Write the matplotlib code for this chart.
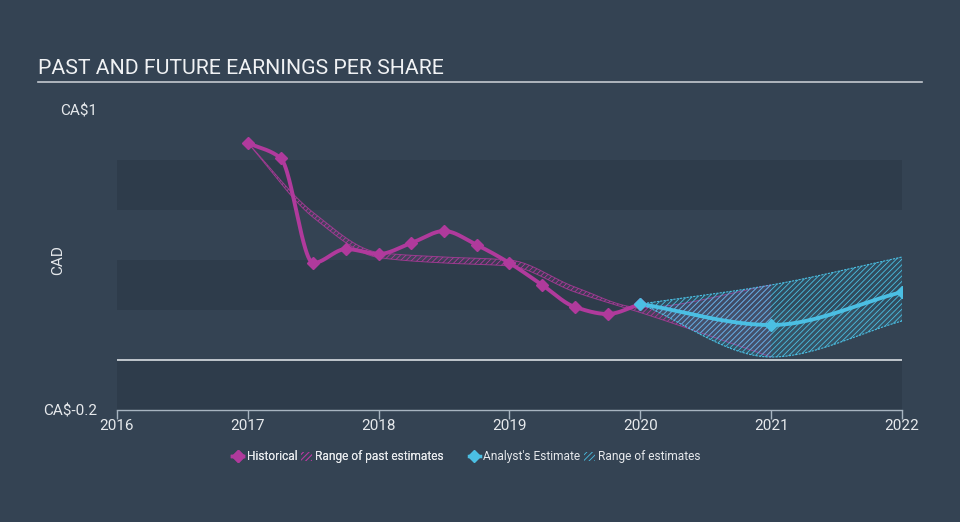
import numpy as np
import matplotlib
matplotlib.use("Agg")
import matplotlib.pyplot as plt
from matplotlib.lines import Line2D
from matplotlib.patches import Patch

plt.rcParams['font.family'] = ['Roboto', 'DejaVu Sans']
plt.rcParams['hatch.linewidth'] = 0.6

# ---- data ----
hist_x = [2017.0, 2017.25, 2017.5, 2017.75, 2018.0, 2018.25, 2018.5, 2018.75,
          2019.0, 2019.25, 2019.5, 2019.75, 2020.0]
hist_y = [0.868, 0.808, 0.388, 0.444, 0.424, 0.468, 0.516, 0.46,
          0.388, 0.30, 0.212, 0.184, 0.224]

past_x = [2017.0, 2017.5, 2018.0, 2018.5, 2019.0, 2019.5, 2020.0, 2021.0]
past_hi = [0.868, 0.59, 0.43, 0.412, 0.40, 0.292, 0.21, 0.30]
past_lo = [0.868, 0.57, 0.41, 0.388, 0.376, 0.272, 0.19, 0.012]

est_x = [2020.0, 2021.0, 2022.0]
est_y = [0.224, 0.14, 0.272]
est_hi = [0.224, 0.30, 0.412]
est_lo = [0.224, 0.012, 0.156]

x_ticks = [2016, 2017, 2018, 2019, 2020, 2021, 2022]
y_ticks = [-0.2, 1.0]
y_ticklabels = ['CA$-0.2', 'CA$1']

BG = '#344353'
BAND = '#2e3c4b'
MAG = '#b03a9c'
CYAN = '#4bbfe3'
TXT = '#e6e9ec'


def pchip(x, y, n=200):
    x = np.asarray(x, float); y = np.asarray(y, float)
    h = np.diff(x); d = np.diff(y) / h
    m = np.zeros_like(y)
    for k in range(1, len(x) - 1):
        if d[k - 1] * d[k] > 0:
            w1 = 2 * h[k] + h[k - 1]; w2 = h[k] + 2 * h[k - 1]
            m[k] = (w1 + w2) / (w1 / d[k - 1] + w2 / d[k])
    m[0] = d[0]; m[-1] = d[-1]
    xs = np.linspace(x[0], x[-1], n)
    idx = np.clip(np.searchsorted(x, xs) - 1, 0, len(x) - 2)
    t = (xs - x[idx]) / h[idx]
    h00 = 2 * t**3 - 3 * t**2 + 1; h10 = t**3 - 2 * t**2 + t
    h01 = -2 * t**3 + 3 * t**2; h11 = t**3 - t**2
    ys = h00 * y[idx] + h10 * h[idx] * m[idx] + h01 * y[idx + 1] + h11 * h[idx] * m[idx + 1]
    return xs, ys


fig = plt.figure(figsize=(9.6, 5.22), dpi=100, facecolor=BG)
ax = fig.add_axes([117 / 960, 1 - 410 / 522, (902 - 117) / 960, 300 / 522])
ax.set_facecolor(BG)
ax.set_xlim(2016, 2022)
ax.set_ylim(-0.2, 1.0)

for lo in [0.6, 0.2, -0.2]:
    ax.axhspan(lo, lo + 0.2, color=BAND, lw=0, zorder=0)
ax.axhline(0, color='#d8dde2', lw=1.2, zorder=1)

# past estimate range
px, phi = pchip(past_x, past_hi)
_, plo = pchip(past_x, past_lo)
ax.fill_between(px, plo, phi, facecolor=(0.69, 0.23, 0.61, 0.12), edgecolor=MAG,
                hatch='//////', lw=0, zorder=2)
ax.plot(px, phi, color=MAG, lw=0.7, alpha=0.8, zorder=2)
ax.plot(px, plo, color=MAG, lw=0.7, alpha=0.8, zorder=2)

# future estimate range
fx, fhi = pchip(est_x, est_hi)
_, flo = pchip(est_x, est_lo)
ax.fill_between(fx, flo, fhi, facecolor=(0.29, 0.75, 0.89, 0.12), edgecolor=CYAN,
                hatch='//////', lw=0, zorder=2)
ax.plot(fx, fhi, color=CYAN, lw=0.8, ls=(0, (2, 1)), zorder=2)
ax.plot(fx, flo, color=CYAN, lw=0.8, ls=(0, (2, 1)), zorder=2)
ax.plot([est_x[-1], est_x[-1]], [est_lo[-1], est_hi[-1]], color=CYAN, lw=0.8,
        ls=(0, (2, 1)), zorder=2)

# historical
hx, hy = pchip(hist_x, hist_y, 600)
ax.plot(hx, hy, color=MAG, lw=2.8, zorder=4, solid_capstyle='round')
ax.plot(hist_x, hist_y, ls='none', marker='D', ms=6, color=MAG, zorder=5)

# analyst estimate
ex, ey = pchip(est_x, est_y)
ax.plot(ex, ey, color=CYAN, lw=2.8, zorder=4)
ax.plot(est_x, est_y, ls='none', marker='D', ms=6, color=CYAN, zorder=5)

# axes styling
for s in ['top', 'right', 'left']:
    ax.spines[s].set_visible(False)
ax.spines['bottom'].set_color('#a7b4c0')
ax.spines['bottom'].set_linewidth(1)
ax.set_xticks(x_ticks)
ax.set_xticklabels([str(t) for t in x_ticks])
ax.tick_params(axis='x', colors='#a7b4c0', labelcolor=TXT, length=6.5, width=1,
               direction='out', labelsize=11, pad=0)
ax.set_yticks(y_ticks)
ax.set_yticklabels(y_ticklabels)
ax.tick_params(axis='y', length=0, labelcolor=TXT, labelsize=11, pad=14)
ax.set_ylabel('CAD', color=TXT, fontsize=11)
ax.yaxis.set_label_coords((65 - 117) / 785, 0.5)

# title
fig.text(38 / 960, 1 - 68 / 522, 'PAST AND FUTURE EARNINGS PER SHARE', color='#f0f2f4',
         fontsize=15.3, va='center', ha='left')
fig.add_artist(Line2D([38 / 960, 922 / 960], [1 - 82 / 522, 1 - 82 / 522],
                      color='#c3c9cf', lw=1.2))

# legends
h1 = [Line2D([0], [0], color=MAG, lw=2.5, marker='D', ms=6),
      Patch(facecolor='none', edgecolor=MAG, hatch='//////', lw=0)]
h2 = [Line2D([0], [0], color=CYAN, lw=2.5, marker='D', ms=6),
      Patch(facecolor='none', edgecolor=CYAN, hatch='//////', lw=0)]
common = dict(ncol=2, loc='center', frameon=False, fontsize=8.6, labelcolor=TXT,
              handlelength=0.9, handletextpad=0.3, columnspacing=0.3, handleheight=0.8)
leg1 = fig.legend(h1, ['Historical', 'Range of past estimates'],
                  bbox_to_anchor=(338 / 960, 1 - 457 / 522), **common)
fig.add_artist(leg1)
fig.legend(h2, ["Analyst's Estimate", 'Range of estimates'],
           bbox_to_anchor=(585 / 960, 1 - 457 / 522), **common)

fig.savefig('out.png', dpi=100, facecolor=BG)
